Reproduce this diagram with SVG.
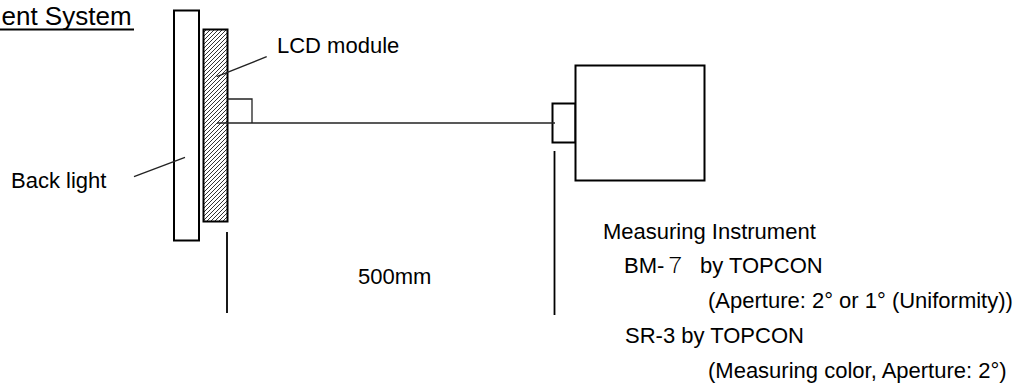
<svg xmlns="http://www.w3.org/2000/svg" width="1022" height="392" viewBox="0 0 1022 392">
<style>
text{font-family:"Liberation Sans",Arial,sans-serif;font-size:22px;fill:#000}
.box{fill:#fff;stroke:#000;stroke-width:2}
.thin{fill:none;stroke:#222;stroke-width:1.3}
.dim{fill:none;stroke:#000;stroke-width:1.8}
.fw{font-family:"Noto Sans CJK JP",sans-serif;font-weight:300}
</style>
<defs>
<pattern id="hatch" patternUnits="userSpaceOnUse" width="4" height="4">
<path d="M-1,1 L1,-1 M0,4 L4,0 M3,5 L5,3" stroke="#333" stroke-width="1"/>
</pattern>
</defs>
<rect width="1022" height="392" fill="#fff"/>
<g id="title">
<text x="1.5" y="25" style="font-size:26px">ent System</text>
<line x1="0" y1="29.5" x2="134" y2="29.5" stroke="#000" stroke-width="1.8"/>
</g>
<g id="backlight">
<rect class="box" x="174" y="10.5" width="25" height="230"/>
<text x="11" y="187.5">Back light</text>
</g>
<g id="lcd">
<rect x="203.5" y="29.5" width="24" height="192" fill="url(#hatch)" stroke="#000" stroke-width="2"/>
<text x="277" y="53">LCD module</text>
</g>
<g id="instrument">
<rect class="box" x="552.5" y="103.5" width="23" height="39"/>
<rect class="box" x="575.5" y="65.5" width="129" height="115"/>
</g>
<g id="connectors">
<line class="thin" x1="266.7" y1="56.7" x2="216.7" y2="76.7"/>
<line class="thin" x1="134" y1="176.7" x2="185" y2="157.3"/>
<polyline class="thin" points="227.5,99 252,99 252,123"/>
<line x1="217" y1="123" x2="555" y2="123" stroke="#222" stroke-width="1.6"/>
<line class="dim" x1="227" y1="232" x2="227" y2="313"/>
<line class="dim" x1="554.5" y1="151" x2="554.5" y2="315"/>
</g>
<g id="labels">
<text x="358" y="284">500mm</text>
<text x="603" y="239">Measuring Instrument</text>
<text x="624" y="273">BM-<tspan class="fw">７</tspan><tspan x="700">by TOPCON</tspan></text>
<text x="708" y="308">(Aperture: 2° or 1° (Uniformity))</text>
<text x="625" y="343">SR-3 by TOPCON</text>
<text x="708" y="378">(Measuring color, Aperture: 2°)</text>
</g>
</svg>
